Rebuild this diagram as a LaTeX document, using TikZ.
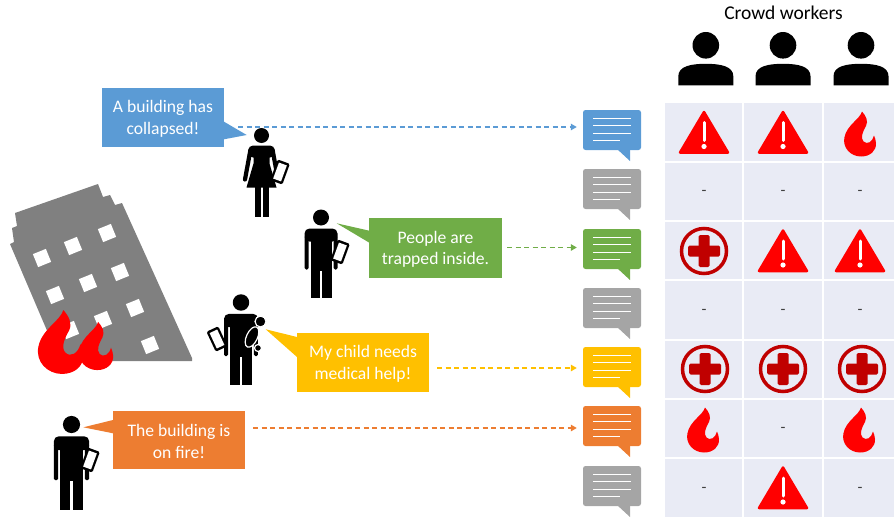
\documentclass[tikz,border=0pt]{standalone}
\usepackage{fontspec}
\setmainfont{Carlito}
\usetikzlibrary{arrows.meta}

\definecolor{sayblue}{HTML}{5B9BD5}
\definecolor{saygreen}{HTML}{70AD47}
\definecolor{saygold}{HTML}{FFC000}
\definecolor{sayorange}{HTML}{ED7D31}
\definecolor{idlegray}{HTML}{A5A5A5}
\definecolor{cellbg}{HTML}{E9EBF5}
\definecolor{alert}{HTML}{FF0000}
\definecolor{medred}{HTML}{C00000}
\definecolor{tower}{HTML}{808080}
\definecolor{nildash}{HTML}{404040}

\tikzset{
  bubble/.style={rectangle, inner sep=0pt, align=center, text=white,
    font=\fontsize{17.6}{21.5}\selectfont},
  saytext/.style={text=white, align=center, inner sep=0pt,
    font=\fontsize{17.6}{21.5}\selectfont},
  chatbox/.style={rectangle, rounded corners=2.5pt, minimum width=58pt,
    minimum height=40pt, inner sep=0pt},
  conn/.style={line width=1.3pt, dash pattern=on 5pt off 3.5pt,
    -{Triangle[length=6pt,width=6.5pt]}, shorten >=6pt},
  nil/.style={text=nildash, font=\fontsize{16}{16}\selectfont,
    inner sep=0pt, anchor=base},
  % tail and text lines of a chat icon
  pics/chatlines/.style={code={
    \fill[#1] (5,19) -- (18,19) -- (18,31) -- cycle;
    \draw[white, line width=0.9pt] (-19,-12) -- (19,-12) (-19,-4.5) -- (19,-4.5)
      (-19,3) -- (19,3) (-19,10) -- (8,10);
  }},
  pics/warn/.style={code={
    \filldraw[alert, line width=2.5pt, line join=round]
      (0,-20.5) -- (24,20) -- (-24,20) -- cycle;
    \draw[white, line width=3pt, line cap=round] (0,-10) -- (0,8);
    \fill[white] (0,14) circle (2.6);
  }},
  pics/fire/.style={code={
    \fill[alert] (2,-22.5) .. controls (0,-15) and (-13,-9) .. (-15.5,3)
      .. controls (-18,14) and (-9,22.5) .. (1,22.5)
      .. controls (10,22.5) and (16.5,17) .. (16,9)
      .. controls (15.8,6) and (15,4) .. (14,1.5)
      .. controls (12.5,8) and (7,11) .. (3.5,7.5)
      .. controls (0,4) and (3,-3) .. (6,-8)
      .. controls (8.5,-13) and (6,-18) .. (2,-22.5) -- cycle;
  }},
  pics/medic/.style={code={
    \draw[medred, line width=3.5pt] (0,0) circle (22.5);
    \fill[medred, rounded corners=1.5pt] (-16,-5.5) rectangle (16,5.5);
    \fill[medred, rounded corners=1.5pt] (-5.5,-16) rectangle (5.5,16);
  }},
  pics/worker/.style={code={
    \fill (0,0) circle (13.3);
    \fill (-27.5,40) -- (-27.5,31) .. controls (-27.5,21) and (-15,18.5) .. (0,18.5)
      .. controls (15,18.5) and (27.5,21) .. (27.5,31) -- (27.5,40) -- cycle;
  }},
  pics/man/.style={code={
    \fill (0,0) circle (8);
    \fill[rounded corners=5pt] (-16.5,24) -- (-16.5,11) -- (16.5,11) -- (16.5,24) -- cycle;
    \fill[rounded corners=1.5pt] (-16.5,18) rectangle (-12.5,52);
    \fill[rounded corners=1.5pt] (12.5,18) rectangle (16.5,52);
    \fill (-10.5,18) rectangle (10.5,53);
    \fill (-10.5,50) rectangle (-1,80);
    \fill (1,50) rectangle (10.5,80);
  }},
  pics/woman/.style={code={
    \fill (0,0) circle (7.5);
    \fill[rounded corners=4.5pt] (-13,22) -- (-13,10) -- (13,10) -- (13,22) -- cycle;
    \draw[line width=4.2pt, line cap=round] (-11,14) -- (-16.5,44);
    \draw[line width=4.2pt, line cap=round] (11,14) -- (16.5,44);
    \fill (-8,16) -- (8,16) -- (8,28) -- (15,52) -- (-15,52) -- (-8,28) -- cycle;
    \fill (-7,50) rectangle (-1,81.5);
    \fill (1,50) rectangle (7,81.5);
  }},
  pics/tablet/.style={code={
    \fill[black, rounded corners=1.5pt] (-6.5,-11) rectangle (6.5,11);
    \fill[white] (-4.2,-8.5) rectangle (4.2,8.5);
  }},
}

\begin{document}
\begin{tikzpicture}[x=1pt,y=-1pt]
\useasboundingbox (0,0) rectangle (894,519);

% ---------- leaning building with flames ----------
\fill[tower] (15,213) -- (98,184) -- (103,197) -- (110,195) -- (115,205) -- (122,203)
  -- (192,358) -- (192,361) -- (60,361) -- (10,244) -- (14,242) -- (12,228)
  -- (17,226) -- cycle;
\foreach \wx/\wy in {42/258, 73/246, 107/233, 55/295, 88/283, 120/272,
                     70/330, 103/320, 135/308, 150/345}
  \fill[white, shift={(\wx,\wy)}, rotate=22] (-7,-7) rectangle (7,7);
\pic[scale=1.07] at (96,346) {fire};
\pic[scale=1.42] at (60.5,342) {fire};

% ---------- people ----------
\pic at (261.5,135.5) {woman};
\pic[rotate=-20] at (280,172) {tablet};

\pic at (321,217.5) {man};
\pic[rotate=-20] at (340,252) {tablet};

\pic[scale=1.03] at (241,302.5) {man};
\pic[rotate=25] at (217,339) {tablet};
\begin{scope}[shift={(252,337)}, rotate=-25]
  \filldraw[black, draw=white, line width=1.2pt] (0,0) ellipse (5.5 and 11);
\end{scope}
\filldraw[black, draw=white, line width=1.2pt] (258,348) circle (3.5);
\filldraw[black, draw=white, line width=1.2pt] (260.5,321.5) circle (5.5);

\pic[scale=1.07] at (71.5,424.5) {man};
\pic[rotate=-20] at (90,460) {tablet};

% ---------- speech bubbles ----------
\node[bubble, fill=sayblue, minimum width=122pt, minimum height=59pt] (say1)
  at (163,117.5) {};
\node[saytext] (t1) at ([yshift=-1.5pt]say1.center) {A building has\\collapsed!};
\fill[sayblue] (224,121.7) -- (246.7,135) -- (224,139.3) -- cycle;

\node[bubble, fill=saygreen, minimum width=133pt, minimum height=60pt] (say2)
  at (435.5,248) {};
\node[saytext] (t2) at ([yshift=-1.5pt]say2.center) {People are\\trapped inside.};
\fill[saygreen] (369.3,230.7) -- (336.7,223.3) -- (369.3,242.7) -- cycle;

\node[bubble, fill=saygold, minimum width=132pt, minimum height=59pt] (say3)
  at (363,362.5) {};
\node[saytext] (t3) at ([yshift=-1.5pt]say3.center) {My child needs\\medical help!};
\fill[saygold] (297,337) -- (265.7,329.3) -- (297,357) -- cycle;

\node[bubble, fill=sayorange, minimum width=132pt, minimum height=58pt] (say4)
  at (179,440) {};
\node[saytext] (t4) at ([yshift=-1.5pt]say4.center) {The building is\\on fire!};
\fill[sayorange] (113,420) -- (83.3,427.3) -- (113,433.3) -- cycle;

% ---------- incoming messages ----------
\node[chatbox, fill=sayblue]   (m1) at (612,130) {};
\node[chatbox, fill=idlegray]  (m2) at (612,189) {};
\node[chatbox, fill=saygreen]  (m3) at (612,249) {};
\node[chatbox, fill=idlegray]  (m4) at (612,308) {};
\node[chatbox, fill=saygold]   (m5) at (612,367) {};
\node[chatbox, fill=sayorange] (m6) at (612,426) {};
\node[chatbox, fill=idlegray]  (m7) at (612,486) {};
\pic at (m1) {chatlines=sayblue};
\pic at (m2) {chatlines=idlegray};
\pic at (m3) {chatlines=saygreen};
\pic at (m4) {chatlines=idlegray};
\pic at (m5) {chatlines=saygold};
\pic at (m6) {chatlines=sayorange};
\pic at (m7) {chatlines=idlegray};

% ---------- forwarded reports ----------
\coordinate (s1) at (238,127);
\coordinate (s2) at (507,247.5);
\coordinate (s3) at (437,368);
\coordinate (s4) at (253,428);
\draw[conn, sayblue]   (s1) -- (s1 -| m1.west);
\draw[conn, saygreen]  (s2) -- (s2 -| m3.west);
\draw[conn, saygold]   (s3) -- (s3 -| m5.west);
\draw[conn, sayorange] (s4) -- (s4 -| m6.west);

% ---------- crowd workers ----------
\node[font=\fontsize{19.5}{20}\selectfont, anchor=base, inner sep=0pt] (crowd)
  at (783.5,19.3) {Crowd workers};
\pic at (705.8,45.3) {worker};
\pic at (783,45.3) {worker};
\pic at (861,45.3) {worker};

% ---------- label grid ----------
\fill[cellbg] (665,103) rectangle (894,517);
\draw[white, line width=1.6pt] (743.2,103) -- (743.2,517) (823.2,103) -- (823.2,517);
\foreach \gy in {162.2, 221.2, 280.2, 339.7, 399.2, 458.2}
  \draw[white, line width=1.6pt] (665,\gy) -- (894,\gy);

% row 1
\pic at (704,132.5) {warn};
\pic at (783,132.5) {warn};
\pic at (860,134) {fire};
% row 2
\node[nil] (d21) at (704,195.8) {-};
\node[nil] (d22) at (783,195.8) {-};
\node[nil] (d23) at (860,195.8) {-};
% row 3
\pic at (704,251) {medic};
\pic at (783,251) {warn};
\pic at (860,251) {warn};
% row 4
\node[nil] (d41) at (704,314.3) {-};
\node[nil] (d42) at (783,314.3) {-};
\node[nil] (d43) at (860,314.3) {-};
% row 5
\pic at (705,369) {medic};
\pic at (783,369) {medic};
\pic at (862,369) {medic};
% row 6
\pic at (703,430) {fire};
\node[nil] (d62) at (783,432.8) {-};
\pic at (859,430) {fire};
% row 7
\node[nil] (d71) at (704,492.3) {-};
\pic at (783,488) {warn};
\node[nil] (d73) at (860,492.3) {-};

\end{tikzpicture}
\end{document}
